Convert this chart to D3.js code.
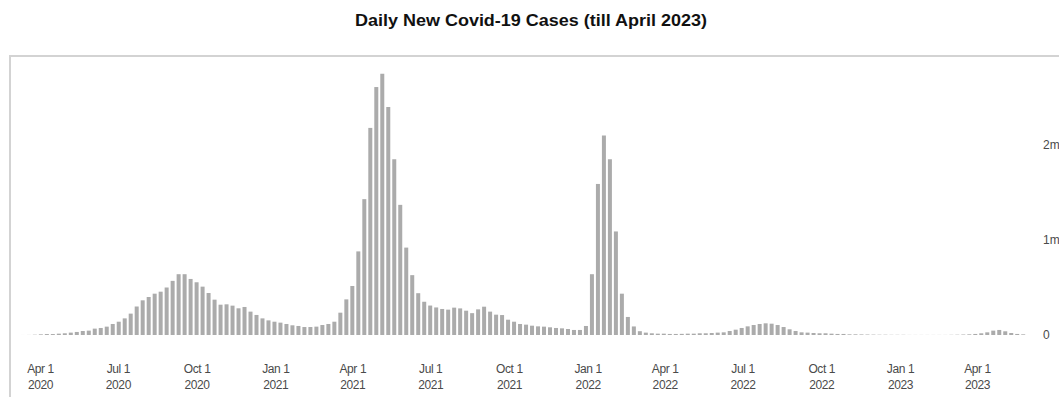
<!DOCTYPE html>
<html>
<head>
<meta charset="utf-8">
<script src="https://cdn.jsdelivr.net/npm/d3@7"></script>
<style>
  html, body { margin: 0; padding: 0; background: #ffffff; overflow: hidden; }
  svg { display: block; }
</style>
</head>
<body>
<svg id="chart" width="1059" height="397"></svg>
<script>
// ---------------- DATA ----------------
const chartTitle = "Daily New Covid-19 Cases (till April 2023)";
// first weekly bar date; each following bar is one week later
const firstWeek = "2020-03-12";
// weekly new cases, in thousands
const weeklyCasesK = [
  0.3, 0.8, 3,
  7, 10, 10, 14, 18, 25, 32, 42, 46, 67, 74, 88, 116, 140, 175, 225, 300, 365, 400, 435, 456, 500, 570, 640, 640, 590, 555,
  509, 442, 372, 319, 323, 309, 281, 295, 246, 211, 175, 154, 140, 130, 116, 102, 95, 84, 84, 88, 105, 116, 140, 235, 375, 516, 880,
  1430, 2180, 2610, 2750, 2400, 1850, 1370, 920, 630, 440, 350, 310, 290, 274, 267, 288, 280, 256, 230, 270,
  298, 246, 214, 210, 161, 140, 116, 109, 98, 91, 88, 81, 74, 70, 63, 53, 53, 95,
  640, 1590, 2100, 1850, 1090, 435, 190, 90, 40, 25, 18,
  14, 14, 11, 11, 12, 14, 14, 18, 18, 21, 25, 28, 42, 56, 74, 91, 105, 116, 123, 119,
  105, 84, 60, 42, 28, 25, 21, 18, 18, 14, 11, 11, 7, 7,
  6, 5, 4, 3, 3, 2, 2, 2, 1, 1, 1, 1, 1, 1, 1, 2, 3, 5,
  7, 11, 18, 28, 46, 53, 39, 21, 11, 7
];
const xTickDates = ["2020-04-01","2020-07-01","2020-10-01","2021-01-01","2021-04-01","2021-07-01","2021-10-01",
                    "2022-01-01","2022-04-01","2022-07-01","2022-10-01","2023-01-01","2023-04-01"];
const xTickLine1 = ["Apr 1","Jul 1","Oct 1","Jan 1","Apr 1","Jul 1","Oct 1","Jan 1","Apr 1","Jul 1","Oct 1","Jan 1","Apr 1"];
const xTickLine2 = ["2020","2020","2020","2021","2021","2021","2021","2022","2022","2022","2022","2023","2023"];
const yTickValuesK = [0, 1000, 2000];
const yTickLabels = ["0", "1m", "2m"];

// ---------------- CHART ----------------
const svg = d3.select("#chart");
const parse = d3.utcParse("%Y-%m-%d");
const start = parse(firstWeek);
const bars = weeklyCasesK.map((v, i) => ({ date: d3.utcDay.offset(start, 7 * i), value: v }));

const x = d3.scaleUtc()
  .domain([parse("2020-04-01"), parse("2023-04-01")])
  .range([40, 977]);
const y = d3.scaleLinear()
  .domain([0, 2000])
  .range([335, 145]);

// frame
svg.append("rect")
  .attr("x", 10).attr("y", 56)
  .attr("width", 1100).attr("height", 400)
  .attr("fill", "none")
  .attr("stroke", "#d3d3d3")
  .attr("stroke-width", 2);

// title
svg.append("text")
  .attr("x", 531).attr("y", 26)
  .attr("text-anchor", "middle")
  .attr("font-family", "'Liberation Sans', Arial, sans-serif")
  .attr("font-weight", "bold")
  .attr("font-size", 16)
  .attr("fill", "#111")
  .attr("textLength", 352)
  .attr("lengthAdjust", "spacingAndGlyphs")
  .text(chartTitle);

// bars
const barW = 4;
svg.append("g").selectAll("rect")
  .data(bars)
  .join("rect")
  .attr("x", d => x(d.date) - barW / 2)
  .attr("y", d => y(d.value))
  .attr("width", barW)
  .attr("height", d => y(0) - y(d.value))
  .attr("fill", "#ababab");

// x axis
const xAxis = d3.axisBottom(x)
  .tickValues(xTickDates.map(parse))
  .tickSize(0)
  .tickPadding(0)
  .tickFormat(() => "");
const gx = svg.append("g")
  .attr("transform", "translate(0,360)")
  .call(xAxis);
gx.select(".domain").remove();
gx.selectAll(".tick text").remove();
gx.selectAll(".tick").each(function(d, i) {
  const t = d3.select(this).append("text")
    .attr("text-anchor", "middle")
    .attr("font-family", "'Liberation Sans', Arial, sans-serif")
    .attr("font-size", 12)
    .attr("letter-spacing", -0.4)
    .attr("fill", "#4a4a4a");
  t.append("tspan").attr("x", 0).attr("y", 13).text(xTickLine1[i]);
  t.append("tspan").attr("x", 0).attr("y", 29).text(xTickLine2[i]);
});

// y axis (right)
const yAxis = d3.axisRight(y)
  .tickValues(yTickValuesK)
  .tickSize(0)
  .tickPadding(0)
  .tickFormat((d, i) => yTickLabels[i]);
const gy = svg.append("g")
  .attr("transform", "translate(1043,0)")
  .call(yAxis);
gy.select(".domain").remove();
gy.selectAll(".tick text")
  .attr("font-family", "'Liberation Sans', Arial, sans-serif")
  .attr("font-size", 12)
  .attr("fill", "#4a4a4a");
</script>
</body>
</html>
